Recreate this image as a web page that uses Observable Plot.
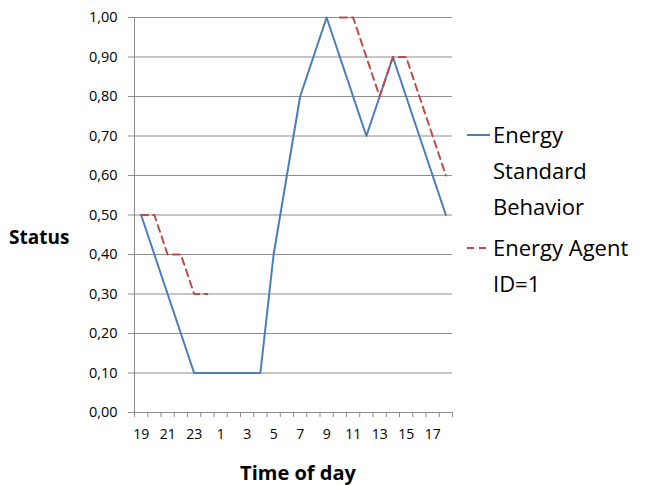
<!DOCTYPE html>
<html><head><meta charset="utf-8">
<script src="https://cdn.jsdelivr.net/npm/d3@7"></script>
<script src="https://cdn.jsdelivr.net/npm/@observablehq/plot@0.6"></script>
<style>
body{margin:0;background:#fff;font-family:"Open Sans",sans-serif;}
#wrap{position:relative;width:652px;height:485px;}
#wrap svg{position:absolute;left:0;top:0;}
.lbl{position:absolute;font-weight:bold;font-size:19px;color:#000;white-space:nowrap;}
.leg{position:absolute;font-size:22px;color:#000;line-height:36px;}
</style></head><body>
<div id="wrap"></div>
<script>
const hours = [19,20,21,22,23,0,1,2,3,4,5,6,7,8,9,10,11,12,13,14,15,16,17,18];
const standard = [0.5,0.4,0.3,0.2,0.1,0.1,0.1,0.1,0.1,0.1,0.4,0.6,0.8,0.9,1.0,0.9,0.8,0.7,0.8,0.9,0.8,0.7,0.6,0.5];
const agent = [0.5,0.5,0.4,0.4,0.3,0.3,null,null,null,null,null,null,null,null,null,1.0,1.0,0.9,0.8,0.9,0.9,0.8,0.7,0.6];
const yTicks = [0,0.1,0.2,0.3,0.4,0.5,0.6,0.7,0.8,0.9,1.0];
const xLabels = [19,21,23,1,3,5,7,9,11,13,15,17];
const seriesNames = ["Energy Standard Behavior","Energy Agent ID=1"];

const stdData = hours.map((h,i)=>({i:i+0.5, v:standard[i]}));
const agData = hours.map((h,i)=>({i:i+0.5, v:agent[i]}));
const labData = xLabels.map(h=>({i:hours.indexOf(h)+0.5, h}));

const chart = Plot.plot({
  width:652, height:485,
  marginLeft:134, marginRight:200, marginTop:17, marginBottom:73,
  style:{fontFamily:"Open Sans", fontSize:"14px", color:"#000", background:"transparent"},
  x:{domain:[0,24], axis:null},
  y:{domain:[0,1], axis:null},
  marks:[
    Plot.ruleY(yTicks, {stroke:"#8c8c8c", strokeWidth:1}),
    Plot.ruleX([0], {stroke:"#8c8c8c", strokeWidth:1}),
    Plot.axisY({ticks:yTicks, tickSize:6, tickPadding:11, stroke:"#8c8c8c", fill:"#000",
      tickFormat:d=>d.toFixed(2).replace(".",","), label:null, fontSize:14.5}),
    Plot.axisX({ticks:d3.range(0,25), tickSize:5, tickFormat:()=>"", stroke:"#8c8c8c", label:null}),
    Plot.text(labData, {x:"i", text:"h", frameAnchor:"bottom", dy:26, fontSize:14, fill:"#000"}),
    Plot.line(stdData, {x:"i", y:"v", stroke:"#4a7ebb", strokeWidth:2}),
    Plot.line(agData, {x:"i", y:"v", stroke:"#be4b48", strokeWidth:2, strokeDasharray:"7,5"})
  ]
});
const wrap = document.getElementById("wrap");
wrap.appendChild(chart);

function addDiv(cls, text, css){
  const d=document.createElement("div"); d.className=cls; d.textContent=text;
  Object.assign(d.style, css); wrap.appendChild(d); return d;
}
addDiv("lbl","Status",{left:"9px",top:"224px"});
addDiv("lbl","Time of day",{left:"0px",width:"596px",textAlign:"center",top:"459px",fontSize:"20px"});

// legend
const legSvg = d3.create("svg").attr("width",652).attr("height",485).style("pointer-events","none");
legSvg.append("line").attr("x1",467).attr("x2",490).attr("y1",135).attr("y2",135).attr("stroke","#4a7ebb").attr("stroke-width",2);
legSvg.append("line").attr("x1",467).attr("x2",490).attr("y1",248).attr("y2",248).attr("stroke","#be4b48").attr("stroke-width",2).attr("stroke-dasharray","7,5");
wrap.appendChild(legSvg.node());
addDiv("leg","",{left:"493px",top:"116px"}).innerHTML="Energy<br>Standard<br>Behavior";
addDiv("leg","",{left:"493px",top:"229px"}).innerHTML="Energy Agent<br>ID=1";
</script>
</body></html>
